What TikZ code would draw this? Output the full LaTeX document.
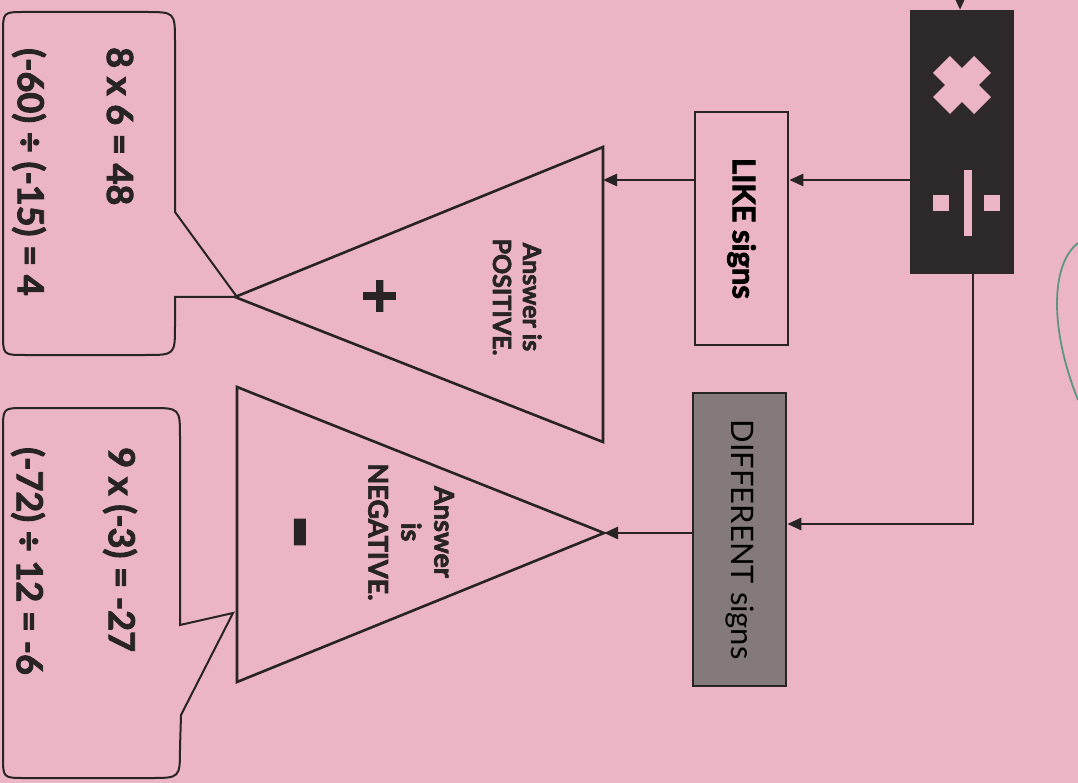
\documentclass[tikz,border=0pt]{standalone}
\usepackage{fontspec}
\setmainfont{Lato}[BoldFeatures={FakeBold=2.5}]
\usetikzlibrary{arrows.meta}
\definecolor{bgpink}{RGB}{236,181,198}
\definecolor{darkbox}{RGB}{45,41,42}
\definecolor{ink}{RGB}{40,36,37}
\definecolor{greybox}{RGB}{132,122,124}
\definecolor{lineg}{RGB}{92,150,126}
\newcommand\rtxt[1]{\rotatebox{-90}{#1}}
\begin{document}
\begin{tikzpicture}[x=1pt,y=-1pt,
  conn/.style={draw=ink, line width=2.6pt, -{Triangle[length=14pt,width=12pt]}},
  boxst/.style={draw=ink, line width=2.6pt, inner sep=0pt},
  shapeline/.style={draw=ink, line width=2.6pt, line join=miter},
  calloutst/.style={draw=ink, line width=2pt},
  lbl/.style={text=ink, inner sep=0pt},
  calltxt/.style={text=ink, inner sep=0pt, anchor=north, font=\bfseries\fontsize{36}{40}\selectfont}]
\useasboundingbox (0,0) rectangle (1078,783);
\fill[bgpink] (0,0) rectangle (1078,783);

% operations box
\node[draw=darkbox, fill=darkbox, minimum width=103pt, minimum height=263pt, inner sep=0pt] (ops) at (961.5,141.5) {};
\begin{scope}[shift={(962,85)}, rotate=45]
  \fill[bgpink] (-29,-12) rectangle (29,12);
  \fill[bgpink] (-12,-29) rectangle (12,29);
\end{scope}
\fill[bgpink] (964,170) rectangle (972,236);
\fill[bgpink] (933,195) rectangle (949,211);
\fill[bgpink] (984,195) rectangle (1000,211);

% sign boxes
\node[boxst, minimum width=93pt, minimum height=233pt] (like) at (741.5,228.5)
  {\rtxt{\bfseries\fontsize{31}{36}\selectfont LIKE signs}};
\node[boxst, fill=greybox, minimum width=93pt, minimum height=293pt] (diff) at (739.5,539.5)
  {\rtxt{\fontsize{31}{36}\selectfont DIFFERENT signs}};

% triangles
\coordinate (t1a) at (603,147);
\coordinate (t1b) at (603,442);
\coordinate (t1c) at (235,297);
\draw[shapeline] (t1a) -- (t1b) -- (t1c) -- cycle;
\coordinate (t2a) at (237,387);
\coordinate (t2b) at (237,682);
\coordinate (t2c) at (604,533);
\draw[shapeline] (t2a) -- (t2b) -- (t2c) -- cycle;

\node[lbl, font=\bfseries\fontsize{25}{30}\selectfont] (pos) at (514,297)
  {\rtxt{\begin{tabular}{@{}c@{}}Answer is\\POSITIVE.\end{tabular}}};
\node[lbl, font=\bfseries\fontsize{62}{62}\selectfont] (plus) at (377,296) {\rtxt{+}};
\node[lbl, font=\bfseries\fontsize{95}{95}\selectfont] (minus) at (288,532) {\rtxt{-}};
\node[lbl, font=\bfseries\fontsize{27}{33}\selectfont] (neg) at (408,532)
  {\rtxt{\begin{tabular}{@{}c@{}}Answer\\is\\NEGATIVE.\end{tabular}}};

% connectors
\coordinate (topin) at (960,0);
\draw[conn] (topin) -- (ops.north -| topin);
\coordinate (ya) at (0,180);
\draw[conn] (ops.west |- ya) -- (like.east |- ya);
\coordinate (t1r) at (603,180);
\draw[conn] (like.west |- ya) -- (t1r);
\coordinate (bend) at (973,524);
\draw[conn] (ops.south -| bend) -- (bend) -- (diff.east |- bend);
\draw[conn] (diff.west |- t2c) -- (t2c);

% callouts
\draw[calloutst] (175,212) -- (237,297) -- (175,297) -- (175,325)
  .. controls (175,355) .. (145,355) -- (25,355) .. controls (3,355) .. (3,333)
  -- (3,34) .. controls (3,12) .. (25,12) -- (145,12) .. controls (175,12) .. (175,42) -- cycle;
\draw[calloutst] (180,625) -- (233,613) -- (181,715) -- (180,748)
  .. controls (180,778) .. (150,778) -- (25,778) .. controls (3,778) .. (3,756)
  -- (3,430) .. controls (3,408) .. (25,408) -- (150,408) .. controls (180,408) .. (180,438) -- cycle;

\node[calltxt] (ex1) at (120,47) {\rtxt{8 x 6 = 48}};
\node[calltxt] (ex2) at (29,48) {\rtxt{(-60) ÷ (-15) = 4}};
\node[calltxt] (ex3) at (120,447) {\rtxt{9 x (-3) = -27}};
\node[calltxt] (ex4) at (28,447) {\rtxt{(-72) ÷ 12 = -6}};

% green curve
\draw[lineg, line width=1.8pt] (1078,243) .. controls (1050,265) and (1050,330) .. (1078,400);
\end{tikzpicture}
\end{document}
